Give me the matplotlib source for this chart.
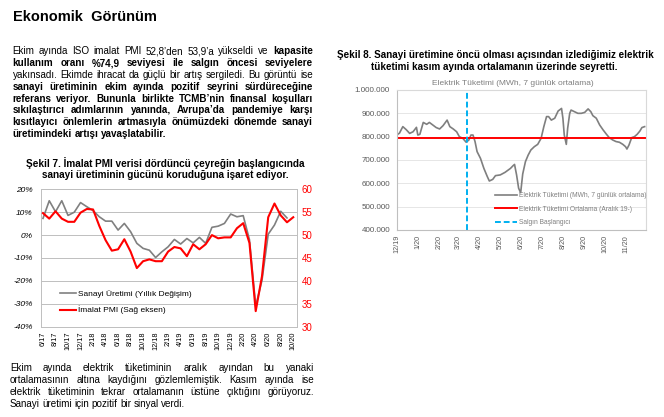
import numpy as np
import pandas as pd
import matplotlib
matplotlib.use("Agg")
import matplotlib.pyplot as plt

plt.rcParams['font.family'] = ['Liberation Sans', 'DejaVu Sans']

# ---- Şekil 7 verileri (aylık, 6/17 - 10/20) ----
ay_etiketleri = ['6/17', '8/17', '10/17', '12/17', '2/18', '4/18', '6/18', '8/18',
                 '10/18', '12/18', '2/19', '4/19', '6/19', '8/19', '10/19', '12/19',
                 '2/20', '4/20', '6/20', '8/20', '10/20']
# sanayi üretimi yıllık değişim (%), 6/17 - 9/20
sanayi_uretimi = [7.3, 15.0, 10.2, 15.0, 8.6, 10.0, 14.2, 12.4, 10.7, 8.0,
                  6.1, 6.1, 2.2, 5.1, 1.5, -3.6, -5.8, -6.6, -9.8, -7.3,
                  -5.1, -1.9, -3.9, -1.5, -3.4, -1.0, -3.6, 3.4, 3.9, 5.1,
                  9.2, 8.0, 8.5, -2.0, -31.0, -19.8, 0.4, 4.4, 10.4, 7.5]
# imalat PMI (sağ eksen), 6/17 - 10/20
imalat_pmi = [54.8, 53.6, 55.2, 53.6, 52.9, 52.9, 54.9, 55.7, 55.6, 52.0,
              48.9, 46.6, 46.9, 49.1, 46.4, 42.8, 44.3, 44.7, 44.3, 44.3,
              46.4, 47.4, 47.1, 45.4, 48.0, 46.9, 48.0, 50.0, 49.3, 49.5,
              49.5, 51.5, 52.6, 48.3, 33.4, 41.0, 53.9, 56.9, 54.3, 52.8, 53.9]

# ---- Şekil 8 verileri (günlük, 1 Aralık 2019'dan itibaren gün) ----
elektrik_gun = [0, 4, 9, 14, 19, 24, 29, 31, 34, 39,
                44, 48, 53, 58, 63, 68, 74, 78, 83, 88,
                92, 97, 102, 106, 109, 112, 115, 118, 123, 128,
                133, 136, 141, 145, 152, 159, 167, 171, 173, 176,
                179, 182, 185, 189, 193, 197, 202, 207, 212, 216,
                220, 223, 227, 232, 237, 242, 244, 246, 249, 251,
                254, 256, 261, 266, 271, 276, 281, 285, 288, 293,
                298, 303, 308, 312, 317, 322, 327, 332, 336, 338,
                341, 345, 349, 353, 357, 360, 364]
# elektrik tüketimi, bin MWh (7 günlük ortalama)
elektrik_tuketimi = [807, 815, 843, 830, 814, 821, 840, 807, 810, 861,
                     853, 861, 850, 839, 833, 847, 871, 843, 833, 821,
                     800, 793, 776, 786, 807, 807, 779, 736, 707, 664,
                     629, 610, 617, 633, 636, 647, 664, 676, 681, 636,
                     579, 560, 640, 693, 721, 743, 757, 767, 793, 843,
                     886, 886, 871, 879, 910, 921, 879, 807, 767, 836,
                     900, 914, 907, 900, 900, 904, 919, 907, 890, 879,
                     850, 829, 810, 796, 786, 779, 776, 767, 757, 747,
                     764, 796, 800, 810, 824, 839, 843]
elektrik_ortalama = 795  # bin MWh, Aralık 19-
salgin_tarihi = '2020-03-13'
elektrik_ay_etiketleri = ['12/19', '1/20', '2/20', '3/20', '4/20', '5/20', '6/20',
                          '7/20', '8/20', '9/20', '10/20', '11/20']

# ---- metinler ----
paragraf1 = [
    [("Ekim ayında ISO imalat PMI 52,8’den 53,9’a yükseldi ve", False), ("kapasite", True)],
    [("kullanım oranı %74,9 seviyesi ile salgın öncesi seviyelere", True)],
    [("yakınsadı. Ekimde ihracat da güçlü bir artış sergiledi. Bu görüntü ise", False)],
    [("sanayi üretiminin ekim ayında pozitif seyrini sürdüreceğine", True)],
    [("referans veriyor. Bununla birlikte TCMB’nin finansal koşulları", True)],
    [("sıkılaştırıcı adımlarının yanında, Avrupa’da pandemiye karşı", True)],
    [("kısıtlayıcı önlemlerin artmasıyla önümüzdeki dönemde sanayi", True)],
    [("üretimindeki artışı yavaşlatabilir.", True)],
]
paragraf2 = [
    [("Ekim ayında elektrik tüketiminin aralık ayından bu yanaki", False)],
    [("ortalamasının altına kaydığını gözlemlemiştik. Kasım ayında ise", False)],
    [("elektrik tüketiminin tekrar ortalamanın üstüne çıktığını görüyoruz.", False)],
    [("Sanayi üretimi için pozitif bir sinyal verdi.", False)],
]

W, H = 664, 417
fig = plt.figure(figsize=(W / 100, H / 100), dpi=100)
renderer = fig.canvas.get_renderer()


def px(x, y):
    return x / W, 1 - y / H


def satir_yaz(parcalar, x0, x1, y, size, yasla=True):
    # satırı kelime kelime yerleştir, iki yana yasla
    kelimeler = []
    for metin, kalin in parcalar:
        for k in metin.split():
            t = fig.text(0, 0, k, fontsize=size, fontweight='bold' if kalin else 'normal',
                         ha='left', va='baseline', color='black')
            kelimeler.append((t, t.get_window_extent(renderer).width))
    toplam = sum(w for _, w in kelimeler)
    if yasla and len(kelimeler) > 1:
        bosluk = (x1 - x0 - toplam) / (len(kelimeler) - 1)
    else:
        bosluk = size * 100 / 72 * 0.25
    x = x0
    for t, w in kelimeler:
        t.set_position(px(x, y))
        x += w + bosluk


def sigdir(s, x, y, genislik, kalin=True, ha='center', color='black'):
    t = fig.text(*px(x, y), s, fontsize=7, fontweight='bold' if kalin else 'normal',
                 ha=ha, va='baseline', color=color)
    w = t.get_window_extent(renderer).width
    t.set_fontsize(7 * genislik / w)
    return t


# başlık
sigdir("Ekonomik  Görünüm", 12.7, 20.7, 144, ha='left')

# paragraflar
for i, sat in enumerate(paragraf1):
    satir_yaz(sat, 12.7, 313, 54.3 + i * 11.81, 7.1, yasla=i < len(paragraf1) - 1)
for i, sat in enumerate(paragraf2):
    satir_yaz(sat, 10, 314, 370.7 + i * 12.0, 7.1, yasla=i < len(paragraf2) - 1)

# şekil başlıkları
t = sigdir("Şekil 7. İmalat PMI verisi dördüncü çeyreğin başlangıcında", 165.5, 166.7, 281)
fig.text(*px(165.5, 177.7), "sanayi üretiminin gücünü koruduğuna işaret ediyor.",
         fontsize=t.get_fontsize(), fontweight='bold', ha='center', va='baseline')
t = sigdir("Şekil 8. Sanayi üretimine öncü olması açısından izlediğimiz elektrik", 495.5, 58.3, 317)
fig.text(*px(494, 70), "tüketimi kasım ayında ortalamanın üzerinde seyretti.",
         fontsize=t.get_fontsize(), fontweight='bold', ha='center', va='baseline')

# ---- Şekil 7 ----
ax1 = fig.add_axes([40.5 / W, 1 - 326.7 / H, 256.5 / W, 137.4 / H])
aylar = np.arange(len(imalat_pmi))
l1, = ax1.plot(aylar[:len(sanayi_uretimi)], sanayi_uretimi, color='#808080', lw=1.2,
               label='Sanayi Üretimi (Yıllık Değişim)')
ax1.set_ylim(-40, 20)
sol_tikler = list(range(-40, 21, 10))
ax1.set_yticks(sol_tikler, labels=[f'{v}%' for v in sol_tikler], fontsize=6, fontstyle='italic')
ax1.set_xlim(-0.4, 40.6)
ax1.set_xticks(aylar[::2], labels=ay_etiketleri, rotation=90, fontsize=5.3)
ax1.tick_params(length=0)
ax1.tick_params(axis='y', pad=5.4)
ax1.tick_params(axis='x', pad=3.5)
ax1.grid(axis='y', color='#bfbfbf', lw=0.7)
for sp in ax1.spines.values():
    sp.set_color('#bfbfbf')
    sp.set_linewidth(0.7)

ax2 = ax1.twinx()
l2, = ax2.plot(aylar, imalat_pmi, color='#ff0000', lw=1.5, label='İmalat PMI (Sağ eksen)')
ax2.set_ylim(30, 60)
ax2.set_yticks(range(30, 61, 5))
ax2.tick_params(axis='y', colors='#ff0000', labelsize=7, length=0, pad=3.4)
for sp in ax2.spines.values():
    sp.set_visible(False)
ax2.legend(handles=[l1, l2], loc='upper left', bbox_to_anchor=(0.076, 0.268),
           frameon=False, fontsize=6, handlelength=1.9, handletextpad=0.25,
           labelspacing=0.95, borderaxespad=0, borderpad=0)

# ---- Şekil 8 ----
ax3 = fig.add_axes([396.7 / W, 1 - 230 / H, 249.3 / W, 140 / H])
baslangic = pd.Timestamp('2019-12-01')
tarih = baslangic + pd.to_timedelta(elektrik_gun, unit='D')
ax3.plot(tarih, np.array(elektrik_tuketimi) * 1000, color='#7f7f7f', lw=1.2,
         label='Elektrik Tüketimi (MWh, 7 günlük ortalama)')
ax3.axhline(elektrik_ortalama * 1000, color='#ff0000', lw=1.4,
            label='Elektrik Tüketimi Ortalama (Aralık 19-)')
ax3.axvline(pd.Timestamp(salgin_tarihi), color='#00b0f0', lw=1.4, ls=(0, (3, 1.5)),
            label='Salgın Başlangıcı')
ax3.set_ylim(400000, 1000000)
sag_tikler = list(range(400000, 1000001, 100000))
ax3.set_yticks(sag_tikler, labels=[f'{v:,}'.replace(',', '.') for v in sag_tikler],
               fontsize=5.8, color='#595959')
ax3.set_xlim(baslangic, pd.Timestamp('2020-12-01'))
ax3.set_xticks(pd.date_range('2019-12-01', '2020-11-01', freq='MS'),
               labels=elektrik_ay_etiketleri, rotation=90, fontsize=5.2, color='#595959')
ax3.tick_params(length=0)
ax3.tick_params(axis='y', pad=4.8)
ax3.tick_params(axis='x', pad=3.5)
ax3.grid(axis='y', color='#e6e6e6', lw=0.7)
ax3.set_axisbelow(True)
for k, sp in ax3.spines.items():
    sp.set_color('#bfbfbf' if k in ('left', 'bottom') else '#d9d9d9')
    sp.set_linewidth(0.8)
leg = ax3.legend(loc='upper left', bbox_to_anchor=(0.394, 0.27), frameon=False,
                 fontsize=4.8, handlelength=3.3, handletextpad=0.3, labelspacing=0.95,
                 borderaxespad=0, borderpad=0)
for tx in leg.get_texts():
    tx.set_color('#7f7f7f')
fig.text(*px(513, 85), "Elektrik Tüketimi (MWh, 7 günlük ortalama)", fontsize=6,
         color='#7f7f7f', ha='center', va='baseline')

fig.savefig('out.png', dpi=100)
